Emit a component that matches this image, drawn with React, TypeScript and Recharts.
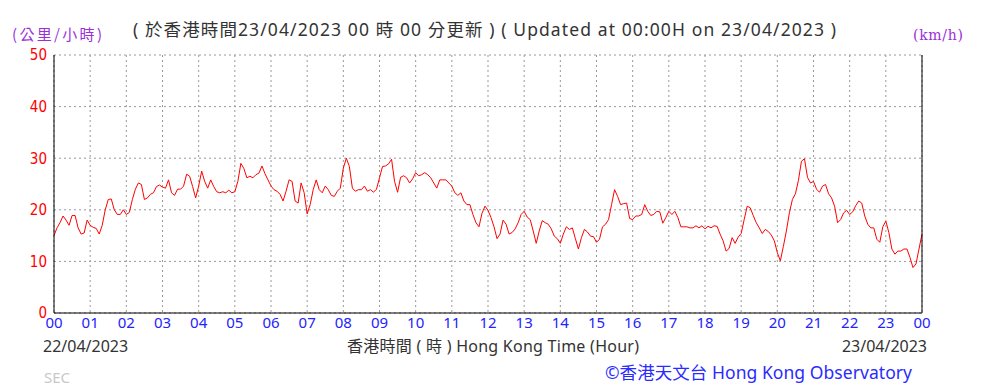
import { LineChart, Line, XAxis, YAxis, CartesianGrid } from 'recharts';

const hourTicks = [0, 1, 2, 3, 4, 5, 6, 7, 8, 9, 10, 11, 12, 13, 14, 15, 16, 17, 18, 19, 20, 21, 22, 23, 24];
const hourLabels = ['00', '01', '02', '03', '04', '05', '06', '07', '08', '09', '10', '11', '12', '13', '14', '15', '16', '17', '18', '19', '20', '21', '22', '23', '00'];
const halfHourTicks = [
  0.5, 1.5, 2.5, 3.5, 4.5, 5.5, 6.5, 7.5, 8.5, 9.5, 10.5, 11.5,
  12.5, 13.5, 14.5, 15.5, 16.5, 17.5, 18.5, 19.5, 20.5, 21.5, 22.5, 23.5
];
const speedTicks = [0, 10, 20, 30, 40, 50];

// wind speed (km/h), one reading every 5 minutes
const speeds00to06 = [
  15, 16.5, 17.5, 18.8, 18, 17, 18.9, 18.9, 16.5, 15.3, 15.5, 18,
  17, 16.6, 16.4, 15.3, 17, 20, 22, 22.1, 20, 19.1, 19.1, 20,
  19.1, 19.5, 22, 24, 25.2, 24.9, 22, 22.3, 23, 23.3, 24.5, 24.8,
  24.4, 24.2, 25.8, 23.3, 22.8, 24, 24, 24.6, 26.9, 26.5, 24.5, 22.3,
  24.6, 27.5, 25.5, 24.2, 25.8, 24.5, 23.5, 23.3, 23.5, 23.3, 23.8, 23.3,
  23.5, 25.5, 29, 28, 26.2, 26.5, 26.2, 26.8, 27.1, 28.5, 27, 25.8
];
const speeds06to12 = [
  24.6, 23.9, 23.6, 23, 21.7, 23.6, 25.8, 25.5, 21.7, 21.3, 25.2, 23.3,
  19.2, 21, 23.9, 25.8, 23.9, 23.3, 24.6, 23.9, 22.8, 22.6, 23.6, 24.2,
  28.1, 30, 28.4, 24.2, 23.6, 23.9, 23.9, 24.6, 23.6, 23.9, 23.4, 24,
  26.2, 28.4, 28.5, 28.9, 29.8, 25.5, 23.4, 26.3, 26.6, 26.2, 25.2, 26,
  27.2, 26.6, 26.8, 27.2, 26.8, 26.2, 25.2, 24.2, 25.8, 25.8, 25.8, 25.2,
  24.6, 23.3, 22.8, 23.3, 21.7, 21, 21, 19.1, 17.5, 16.7, 19.3, 20.7
];
const speeds12to18 = [
  19.9, 18.5, 16.7, 14.4, 15.3, 18, 17.2, 15.3, 15.6, 16.3, 17.5, 19.1,
  19.7, 18.6, 18.1, 15.9, 13.5, 15.9, 17.9, 17.5, 17.2, 16.3, 14.9, 14.4,
  13.5, 15.3, 16.7, 16.2, 16.5, 14.4, 12.4, 14.6, 16.2, 15.7, 14.9, 14.8,
  13.7, 14.3, 16.7, 17.2, 18.1, 21, 23.9, 22.6, 21, 21.2, 21.3, 18.3,
  18.1, 18.8, 18.8, 19.1, 21, 19.7, 18.9, 19.1, 19.7, 19.6, 17.4, 18.5,
  19.7, 19.1, 19.7, 18.5, 16.7, 16.7, 16.7, 16.5, 16.5, 16.9, 16.5, 16.9
];
const speeds18to24 = [
  16.3, 16.8, 16.5, 16.9, 16.8, 15.3, 14, 12, 12.5, 14.6, 13.5, 14.7,
  15.4, 18.1, 20.7, 20.4, 18.9, 17.5, 16.5, 15.4, 16.2, 15.8, 15.1, 14,
  11.7, 10.1, 12.9, 15.9, 19.4, 22, 23.1, 25.7, 29.4, 29.9, 26.3, 25.2,
  25.5, 24, 23.4, 24.6, 24.9, 23.1, 22.3, 20.7, 17.5, 18.1, 19.4, 19.9,
  19.1, 19.6, 20.8, 21.7, 21.3, 18.8, 17.2, 16.5, 16.5, 14.3, 13.7, 16.7,
  17.8, 15.6, 12.4, 11.4, 12, 12, 12.4, 12.4, 10.8, 8.8, 9.5, 12.4,
  15.3
];

const speeds = [...speeds00to06, ...speeds06to12, ...speeds12to18, ...speeds18to24];
const chartData = speeds.map((v, i) => ({ hour: i / 12, speed: v }));

const sans = "'Noto Sans', 'Noto Sans CJK TC', sans-serif";
const narrow = "'Liberation Sans Narrow', 'DejaVu Sans Condensed', 'DejaVu Sans', sans-serif";
const yTick = { fill: '#ff0000', fontSize: 15, fontFamily: narrow, style: { fontStretch: 'condensed' } };

const App = () => {
  return (
    <div
      style={{
        position: 'absolute',
        left: 0,
        top: 0,
        width: 983,
        height: 388,
        background: '#fff'
      }}
    >
      <LineChart
        width={983}
        height={388}
        data={chartData}
        margin={{ top: 55, right: 21, bottom: 45, left: 14 }}
      >
        <CartesianGrid yAxisId='left' stroke='#999' strokeDasharray='2 3' />
        <XAxis
          dataKey='hour'
          type='number'
          domain={[0, 24]}
          ticks={hourTicks}
          interval={0}
          tickFormatter={(v) => hourLabels[v]}
          tickLine={false}
          tickSize={2}
          tickMargin={2}
          height={30}
          stroke='#000'
          tick={{ fill: '#2323ff', fontSize: 15, fontFamily: sans }}
        />
        {/* small upward ticks on the time axis */}
        <XAxis
          xAxisId='minor'
          dataKey='hour'
          type='number'
          domain={[0, 24]}
          ticks={[...hourTicks, ...halfHourTicks]}
          interval={0}
          mirror
          axisLine={false}
          tick={false}
          tickSize={3}
          stroke='#000'
        />
        <YAxis
          yAxisId='left'
          domain={[0, 50]}
          ticks={speedTicks}
          interval={0}
          tickLine={false}
          tickSize={5}
          tickMargin={2}
          width={40}
          stroke='#000'
          tick={yTick}
        />
        <YAxis
          yAxisId='right'
          orientation='right'
          domain={[0, 50]}
          ticks={speedTicks}
          interval={0}
          tickLine={false}
          tickSize={3}
          tickMargin={2}
          width={40}
          stroke='#000'
          tick={{ ...yTick, textAnchor: 'start' }}
        />
        <Line
          yAxisId='left'
          type='linear'
          dataKey='speed'
          stroke='#ff0000'
          strokeWidth={1}
          dot={false}
          isAnimationActive={false}
        />
      </LineChart>

      {/* titles and footers */}
      <svg
        width={983}
        height={388}
        style={{ position: 'absolute', left: 0, top: 0, pointerEvents: 'none' }}
      >
        <text x={12} y={40} fill='#9b30d9' fontSize={15} fontFamily="'Noto Sans CJK TC', sans-serif" textLength={90} lengthAdjust='spacing'>
          (公里/小時)
        </text>
        <text x={133} y={36} fill='#333' fontSize={17.5} fontFamily={sans} textLength={703} lengthAdjust='spacing'>
          ( 於香港時間23/04/2023 00 時 00 分更新 ) ( Updated at 00:00H on 23/04/2023 )
        </text>
        <text x={913} y={40} fill='#9b30d9' fontSize={14} fontFamily="'DejaVu Serif', serif" textLength={50} lengthAdjust='spacing'>
          (km/h)
        </text>
        <text x={43} y={352} fill='#333' fontSize={16} fontFamily={sans}>
          22/04/2023
        </text>
        <text x={347} y={352} fill='#333' fontSize={16} fontFamily={sans} textLength={292} lengthAdjust='spacing'>
          香港時間 ( 時 ) Hong Kong Time (Hour)
        </text>
        <text x={927} y={352} fill='#333' fontSize={16} fontFamily={sans} textAnchor='end'>
          23/04/2023
        </text>
        <text x={44} y={383} fill='#c8c8c8' fontSize={15} fontFamily={sans}>
          SEC
        </text>
        <text x={605} y={379} fill='#2b2bff' fontSize={17.5} fontFamily={sans} textLength={307} lengthAdjust='spacing'>
          ©香港天文台 Hong Kong Observatory
        </text>
      </svg>
    </div>
  );
};

export default App;
